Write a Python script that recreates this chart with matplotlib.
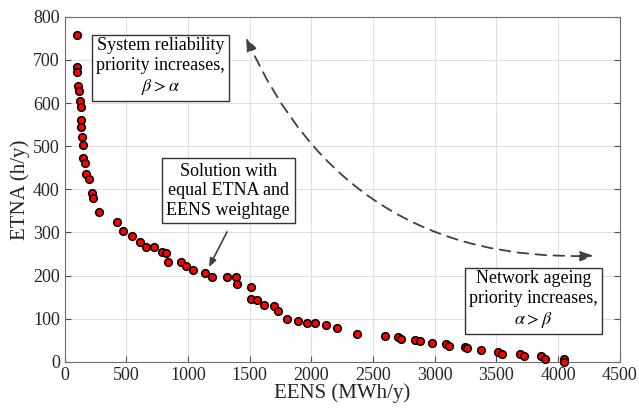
import matplotlib
matplotlib.use("Agg")
import matplotlib.pyplot as plt
from matplotlib.patches import FancyArrowPatch

# Pareto front
eens = [97, 102, 102, 110, 116, 124, 130, 130, 135, 140,
        146, 151, 165, 173, 199, 219, 227, 278, 421, 475,
        543, 610, 656, 726, 786, 818, 835, 942, 981, 1042,
        1137, 1196, 1318, 1388, 1399, 1507, 1507, 1556, 1615, 1696,
        1731, 1804, 1893, 1966, 2028, 2115, 2204, 2369, 2596, 2703,
        2725, 2839, 2879, 2974, 3090, 3117, 3244, 3258, 3374, 3509,
        3546, 3690, 3725, 3861, 3892, 4045, 4045]
etna = [758, 684, 673, 640, 629, 606, 590, 561, 544, 522,
        503, 472, 460, 436, 423, 392, 381, 348, 325, 303,
        292, 277, 267, 267, 255, 253, 231, 231, 222, 212,
        207, 197, 196, 196, 180, 173, 145, 143, 132, 130,
        118, 98, 94, 90, 90, 85, 78, 64, 60, 58,
        53, 50, 49, 43, 41, 37, 35, 31, 27, 23,
        18, 18, 13, 13, 6, 6, 0]

xticks = list(range(0, 4501, 500))
yticks = list(range(0, 801, 100))

plt.rcParams['font.family'] = ['Liberation Serif', 'DejaVu Serif']
plt.rcParams['mathtext.fontset'] = 'stix'

fig = plt.figure(figsize=(6.39, 4.12), dpi=100)
ax = fig.add_axes([0.1013, 0.122, 0.8687, 0.837])

ax.plot(eens, etna, 'o', color='red', markeredgecolor='black',
        markersize=5.5, markeredgewidth=1.1, clip_on=False, zorder=3)

ax.set_xlim(0, 4500)
ax.set_ylim(0, 800)
ax.set_xticks(xticks)
ax.set_yticks(yticks)
ax.grid(True, color='#e0e0e0', linewidth=0.8)
ax.set_axisbelow(True)
ax.tick_params(direction='in', length=4, labelsize=13, colors='#4d4d4d',
               labelcolor='#262626', top=False, right=True)
for sp in ax.spines.values():
    sp.set_color('#6e6e6e')
    sp.set_linewidth(0.8)

ax.set_xlabel('EENS (MWh/y)', fontsize=15, color='#262626', labelpad=0)
ax.set_ylabel('ETNA (h/y)', fontsize=15, color='#262626', labelpad=2)

box = dict(boxstyle='square,pad=0.25', facecolor='white', edgecolor='#333333', linewidth=1)
ax.text(776, 684, 'System reliability\npriority increases,\n$\\beta > \\alpha$',
        ha='center', va='center', fontsize=13, bbox=box, zorder=4)
ax.text(1326, 397, 'Solution with\nequal ETNA and\nEENS weightage',
        ha='center', va='center', fontsize=13, bbox=box, zorder=4)
ax.text(3801, 143, 'Network ageing\npriority increases,\n$\\alpha > \\beta$',
        ha='center', va='center', fontsize=13, bbox=box, zorder=4)

# arrow pointing at the equal-weight solution
ax.annotate('', xy=(1159, 214), xytext=(1326, 307),
            arrowprops=dict(arrowstyle='-|>,head_length=0.5,head_width=0.2',
                            color='#404040', lw=1.2), zorder=5)

# dashed curved double arrow
arc = FancyArrowPatch((1461, 758), (4311, 246),
                      connectionstyle='arc3,rad=0.34',
                      arrowstyle='<|-|>,head_length=0.4,head_width=0.15',
                      mutation_scale=20, color='#404040', lw=1.3,
                      linestyle=(0, (6, 4)), zorder=5, clip_on=False)
ax.add_patch(arc)

fig.savefig('out.png', dpi=100)
